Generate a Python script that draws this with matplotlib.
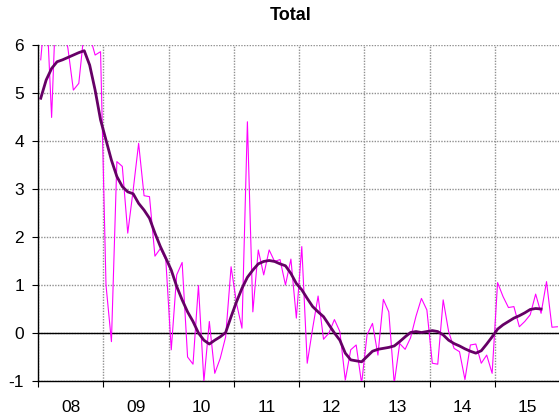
import matplotlib.pyplot as plt

# monthly values Jan 2008 .. Dec 2015
monthly = [5.69, 7.0, 4.49, 7.5, 6.5, 5.93, 5.06, 5.2, 6.3, 6.2, 5.79, 5.86,
           1.0, -0.18, 3.57, 3.47, 2.08, 2.98, 3.95, 2.86, 2.84, 1.6, 1.76, 1.52,
           -0.35, 1.21, 1.47, -0.5, -0.65, 0.99, -1.01, 0.24, -0.84, -0.53, -0.08, 1.38,
           0.62, 0.1, 4.40, 0.44, 1.73, 1.21, 1.73, 1.49, 1.53, 1.0, 1.54, 0.31,
           1.8, -0.63, 0.1, 0.77, -0.13, 0.0, 0.28, 0.03, -0.98, -0.35, -0.25, -1.05,
           -0.04, 0.2, -0.46, 0.7, 0.44, -1.05, -0.22, -0.34, -0.1, 0.35, 0.72, 0.48,
           -0.63, -0.65, 0.69, 0.03, -0.32, -0.39, -0.97, -0.25, -0.23, -0.63, -0.46, -0.84,
           1.05, 0.76, 0.53, 0.55, 0.13, 0.24, 0.38, 0.81, 0.41, 1.07, 0.12, 0.13]

# smoothed trend Jan 2008 .. Sep 2015
trend = [4.89, 5.27, 5.51, 5.65, 5.69, 5.74, 5.79, 5.84, 5.88, 5.58, 5.06, 4.44,
         4.02, 3.6, 3.26, 3.05, 2.94, 2.9, 2.7, 2.56, 2.39, 2.08, 1.8, 1.56,
         1.31, 0.97, 0.69, 0.44, 0.24, 0.0, -0.15, -0.23, -0.15, -0.08, 0.01, 0.34,
         0.65, 0.93, 1.16, 1.31, 1.44, 1.49, 1.51, 1.49, 1.44, 1.40, 1.24, 1.03,
         0.9, 0.72, 0.55, 0.44, 0.34, 0.17, 0.0, -0.15, -0.42, -0.56, -0.58, -0.6,
         -0.49, -0.38, -0.34, -0.32, -0.3, -0.27, -0.18, -0.08, 0.01, 0.03, 0.01, 0.03,
         0.05, 0.03, -0.04, -0.15, -0.22, -0.27, -0.33, -0.38, -0.42, -0.37, -0.23, -0.08,
         0.08, 0.17, 0.24, 0.31, 0.36, 0.42, 0.49, 0.51, 0.5]

year_labels = ['08', '09', '10', '11', '12', '13', '14', '15']

plt.rcParams['font.family'] = ['Liberation Sans', 'DejaVu Sans']
plt.rcParams['axes.unicode_minus'] = False

fig = plt.figure(figsize=(5.59, 4.19), dpi=100)
ax = fig.add_axes([0.068, 0.0907, 0.934, 0.802])

x_m = [i + 0.5 for i in range(len(monthly))]
x_t = [i + 0.5 for i in range(len(trend))]

ax.plot(x_m, monthly, color='#ff00ff', lw=0.8, zorder=3)
ax.plot(x_t, trend, color='#660066', lw=2.0, zorder=4)
ax.axhline(0, color='black', lw=1.0, zorder=2)

ax.set_xlim(0, 96)
ax.set_ylim(-1, 6)
ax.set_yticks(range(-1, 7))

ax.set_xticks(range(0, 97, 12))
ax.set_xticklabels([])
ax.set_xticks([6 + 12 * k for k in range(8)], minor=True)
ax.set_xticklabels(year_labels, minor=True)
ax.tick_params(axis='x', which='minor', length=0, labelsize=12.5, pad=14)
ax.tick_params(axis='x', which='major', length=4, direction='out')
ax.tick_params(axis='y', length=4, direction='out', labelsize=12.5, pad=6)

ax.grid(True, which='major', color='#909090', linestyle=(0, (1, 1)), lw=1.0)
for s in ['top', 'right']:
    ax.spines[s].set_visible(False)
ax.spines['left'].set_linewidth(1.0)
ax.spines['bottom'].set_linewidth(1.0)

fig.text(0.52, 0.963, 'Total', ha='center', va='center', fontsize=13, fontweight='bold')

fig.savefig('out.png', dpi=100)
